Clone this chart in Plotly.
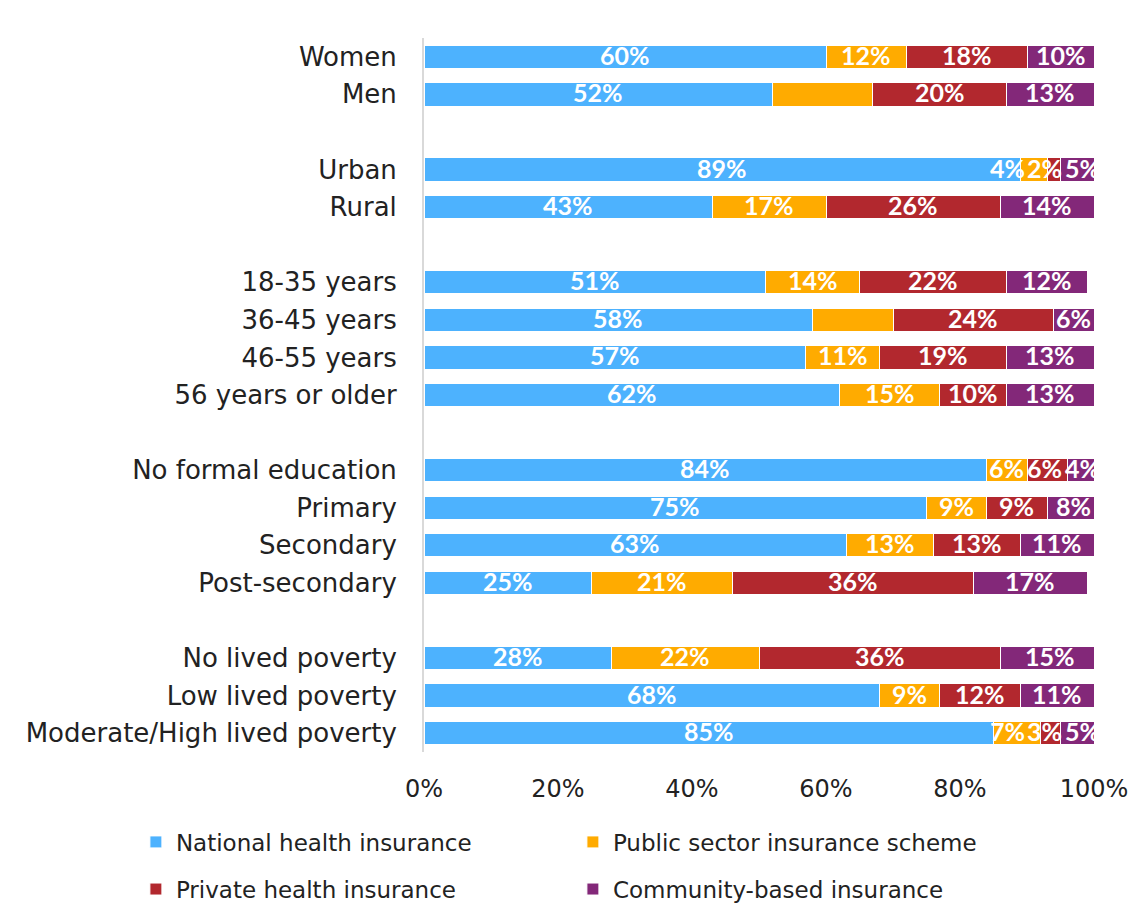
import plotly.graph_objects as go

categories = ["Women", "Men", "Urban", "Rural", "18-35 years", "36-45 years",
              "46-55 years", "56 years or older", "No formal education", "Primary",
              "Secondary", "Post-secondary", "No lived poverty", "Low lived poverty",
              "Moderate/High lived poverty"]
# category order with blank spacer rows between groups
row_order = ["Women", "Men", " ", "Urban", "Rural", "  ", "18-35 years", "36-45 years",
             "46-55 years", "56 years or older", "   ", "No formal education", "Primary",
             "Secondary", "Post-secondary", "    ", "No lived poverty", "Low lived poverty",
             "Moderate/High lived poverty"]

series_names = ["National health insurance", "Public sector insurance scheme",
                "Private health insurance", "Community-based insurance"]
national = [60, 52, 89, 43, 51, 58, 57, 62, 84, 75, 63, 25, 28, 68, 85]
public = [12, 15, 4, 17, 14, 12, 11, 15, 6, 9, 13, 21, 22, 9, 7]
private = [18, 20, 2, 26, 22, 24, 19, 10, 6, 9, 13, 36, 36, 12, 3]
community = [10, 13, 5, 14, 12, 6, 13, 13, 4, 8, 11, 17, 15, 11, 5]
# labels not shown in the original chart
hidden_labels = {("Public sector insurance scheme", "Men"),
                 ("Public sector insurance scheme", "36-45 years")}

colors = ["#4DB2FE", "#FFAB00", "#B2282E", "#832879"]
tick_vals = [0, 20, 40, 60, 80, 100]
tick_text = ["0%", "20%", "40%", "60%", "80%", "100%"]
legend_ids = ["legend", "legend", "legend2", "legend2"]

FONT = "DejaVu Sans"
PLOT_W = 670
LABEL_SIZE = 25
all_series = [national, public, private, community]

fig = go.Figure()
for name, vals, col, lg in zip(series_names, all_series, colors, legend_ids):
    fig.add_trace(go.Bar(
        y=categories, x=vals, name=name, orientation="h", legend=lg,
        marker=dict(color=col, line=dict(color="white", width=1)),
        hoverinfo="skip",
    ))

# data labels: centred in each segment, nudged apart where segments are too narrow
unit = PLOT_W / 100.0
def label_width(t):
    return (0.575 * LABEL_SIZE * (len(t) - 1) + 0.8 * LABEL_SIZE + 3) / unit

annotations = []
for i, cat in enumerate(categories):
    labels = []
    start = 0
    for name, vals in zip(series_names, all_series):
        v = vals[i]
        if (name, cat) not in hidden_labels:
            labels.append([start + v / 2, f"{v}%"])
        start += v
    # forward pass
    for k in range(1, len(labels)):
        need = (label_width(labels[k - 1][1]) + label_width(labels[k][1])) / 2
        if labels[k][0] - labels[k - 1][0] < need:
            labels[k][0] = labels[k - 1][0] + need
    # clamp at right edge then backward pass
    lim = 100 - label_width(labels[-1][1]) / 2 + 1
    if labels[-1][0] > lim:
        labels[-1][0] = lim
    for k in range(len(labels) - 2, -1, -1):
        need = (label_width(labels[k][1]) + label_width(labels[k + 1][1])) / 2
        if labels[k + 1][0] - labels[k][0] < need:
            labels[k][0] = labels[k + 1][0] - need
    for cx, t in labels:
        annotations.append(dict(x=cx, y=cat, xref="x", yref="y", text=t, showarrow=False,
                                yshift=2,
                                font=dict(color="white", size=LABEL_SIZE, family="Lato",
                                          weight="bold")))

legend_common = dict(orientation="h", xanchor="left", yanchor="middle",
                     entrywidth=392, entrywidthmode="pixels", font=dict(size=23, color="#222222"),
                     itemwidth=30, traceorder="normal", bgcolor="rgba(0,0,0,0)")
fig.update_layout(
    barmode="stack", bargap=0.38,
    width=1148, height=915,
    margin=dict(l=416, r=62, t=30, b=171, autoexpand=False),
    paper_bgcolor="white", plot_bgcolor="white",
    font=dict(family=FONT, size=24, color="#222222"),
    annotations=annotations,
    xaxis=dict(range=[0, 100], tickvals=tick_vals, ticktext=tick_text, showgrid=False,
               zeroline=False, showline=False, ticks="", tickfont=dict(size=24),
               ticklabelstandoff=20),
    yaxis=dict(categoryorder="array", categoryarray=row_order, range=[18.5, -0.5],
               showline=True, linecolor="#D9D9D9", linewidth=2, ticks="",
               tickfont=dict(size=26), ticklabelstandoff=20),
    legend=dict(x=-0.43, y=-0.126, **legend_common),
    legend2=dict(x=-0.43, y=-0.192, **legend_common),
)
fig.write_html("out.html")
